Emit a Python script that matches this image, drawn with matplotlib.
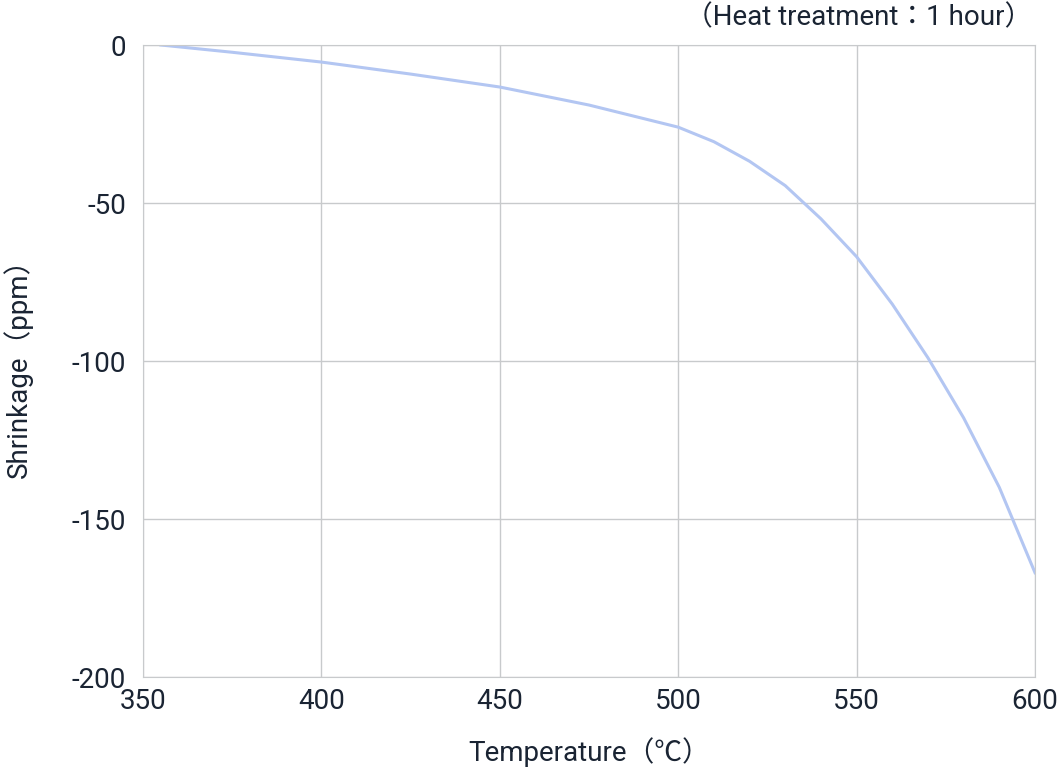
import matplotlib.pyplot as plt

plt.rcParams["font.family"] = ["Roboto", "Noto Sans CJK JP"]
plt.rcParams["axes.unicode_minus"] = False

# values
temperature = [355, 375, 400, 425, 450, 475, 500, 510, 520, 530, 540, 550, 560, 570, 580, 590, 600]
shrinkage = [0, -2.3, -5.4, -9.2, -13.3, -19, -26, -30.6, -36.8, -44.5, -55, -67, -82, -99, -118, -140, -167]

x_ticks = [350, 400, 450, 500, 550, 600]
y_ticks = [0, -50, -100, -150, -200]

fig = plt.figure(figsize=(10.63, 7.82), dpi=100)
ax = fig.add_axes([143 / 1063, 105 / 782, 892 / 1063, 632 / 782])

ax.plot(temperature, shrinkage, color="#b3c6f2", lw=2.2)

ax.set_xlim(350, 600)
ax.set_ylim(-200, 0)
ax.set_xticks(x_ticks)
ax.set_yticks(y_ticks)
ax.grid(True, color="#c8cacc", lw=1)
for s in ax.spines.values():
    s.set_color("#c8cacc")
ax.tick_params(length=0, labelsize=20, colors="#1a2433", pad=8)
ax.tick_params(axis="y", pad=12)

ax.set_xlabel("Temperature（℃）", fontsize=20, color="#1a2433", labelpad=16)
ax.set_ylabel("Shrinkage（ppm）", fontsize=20, color="#1a2433", labelpad=28)
fig.text(1032 / 1063, 1 - 18 / 782, "（Heat treatment：1 hour）", fontsize=20,
         color="#1a2433", ha="right", va="center")

fig.savefig("out.png")
